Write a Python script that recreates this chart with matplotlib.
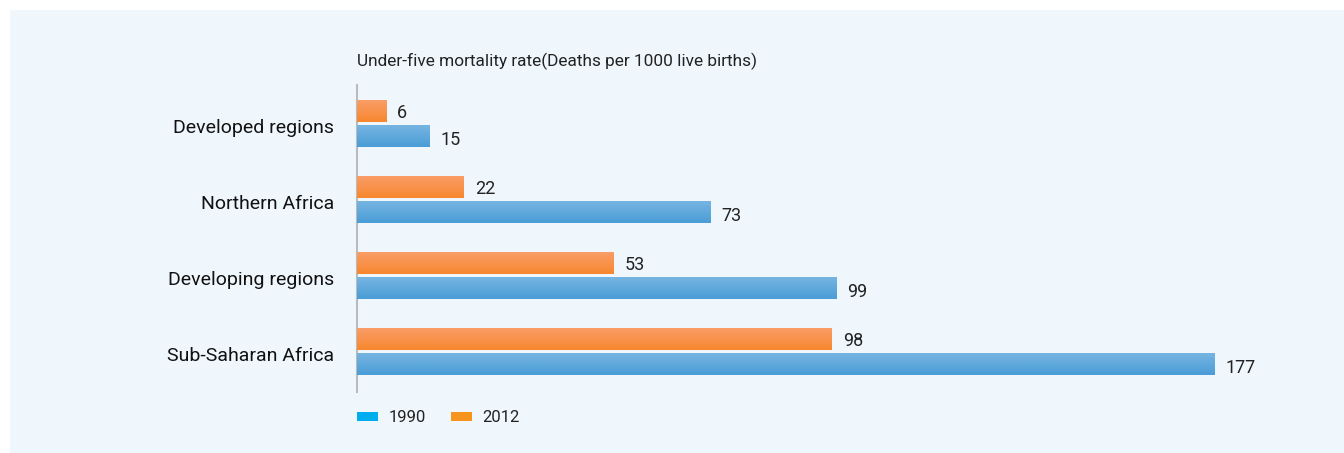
import numpy as np
import matplotlib.pyplot as plt
from matplotlib.patches import Patch, Rectangle
from matplotlib.colors import LinearSegmentedColormap

plt.rcParams['font.family'] = ['Roboto', 'DejaVu Sans']

# Data
regions = ['Developed regions', 'Northern Africa', 'Developing regions', 'Sub-Saharan Africa']
rate_1990 = [15, 73, 99, 177]
rate_2012 = [6, 22, 53, 98]
title = 'Under-five mortality rate(Deaths per 1000 live births)'

W, H = 1344, 453
fig = plt.figure(figsize=(W / 100, H / 100), dpi=100, facecolor='white')
bg = '#EFF7FD'
fig.patches.append(Rectangle((10 / W, 0), 1 - 10 / W, 1 - 10 / H, transform=fig.transFigure,
                             facecolor=bg, edgecolor='none', zorder=-10))

# axes in pixels: left 357, top 85, bottom 392
left, right = 357, 357 + 200 * 4.842
top, bottom = 85, 392
ax = fig.add_axes([left / W, 1 - bottom / H, (right - left) / W, (bottom - top) / H])
ax.set_facecolor('none')

y = np.arange(len(regions))
off = 0.165
bh = 0.29

# lighter on top, darker at the bottom
blue_cm = LinearSegmentedColormap.from_list('b', ['#78B6E2', '#4A9DD6'])
orange_cm = LinearSegmentedColormap.from_list('o', ['#FA9E6A', '#F7872E'])
grad = np.linspace(0, 1, 50).reshape(-1, 1)

b1 = ax.barh(y + off, rate_1990, height=bh, color='#5BA6DB', zorder=2)
b2 = ax.barh(y - off, rate_2012, height=bh, color='#F8913F', zorder=2)

for bars, cm in ((b1, blue_cm), (b2, orange_cm)):
    for bar in bars:
        x0, y0 = bar.get_x(), bar.get_y()
        w, h = bar.get_width(), bar.get_height()
        im = ax.imshow(grad, extent=[x0, x0 + w, y0 + h, y0], cmap=cm, aspect='auto',
                       origin='upper', zorder=3)
        im.set_clip_path(bar)

ax.set_xlim(0, 200)
ax.set_ylim(3.53, -0.51)

for yi, v in zip(y, rate_1990):
    ax.text(v + 2.3, yi + off + 0.05, str(v), va='center', ha='left', fontsize=13, color='#222222')
for yi, v in zip(y, rate_2012):
    ax.text(v + 2.3, yi - off + 0.03, str(v), va='center', ha='left', fontsize=13, color='#222222')

# category labels, right-aligned just left of the axis line
lab_x = -(left - 334) / (right - left)
for yi, name in zip(y, regions):
    ax.text(lab_x, yi + 0.06, name, transform=ax.get_yaxis_transform(), ha='right', va='center',
            fontsize=14, color='#111111')

ax.set_yticks([])
ax.set_xticks([])
for s in ['top', 'right', 'bottom']:
    ax.spines[s].set_visible(False)
ax.spines['left'].set_color('#B8BCBF')
ax.spines['left'].set_linewidth(1.5)

fig.text(left / W, 1 - 61 / H, title, ha='left', va='center', fontsize=12.4, color='#222222')

handles = [Patch(facecolor='#00AEEF', edgecolor='none', label='1990'),
           Patch(facecolor='#F7941D', edgecolor='none', label='2012')]
leg = fig.legend(handles=handles, loc='center left', bbox_to_anchor=((left - 15.5) / W, 1 - 418 / H),
                 ncol=2, frameon=False, fontsize=12, handlelength=1.3, handleheight=0.45,
                 handletextpad=0.6, columnspacing=1.5)
for t in leg.get_texts():
    t.set_color('#222222')

fig.savefig('out.png', dpi=100, facecolor='white')
